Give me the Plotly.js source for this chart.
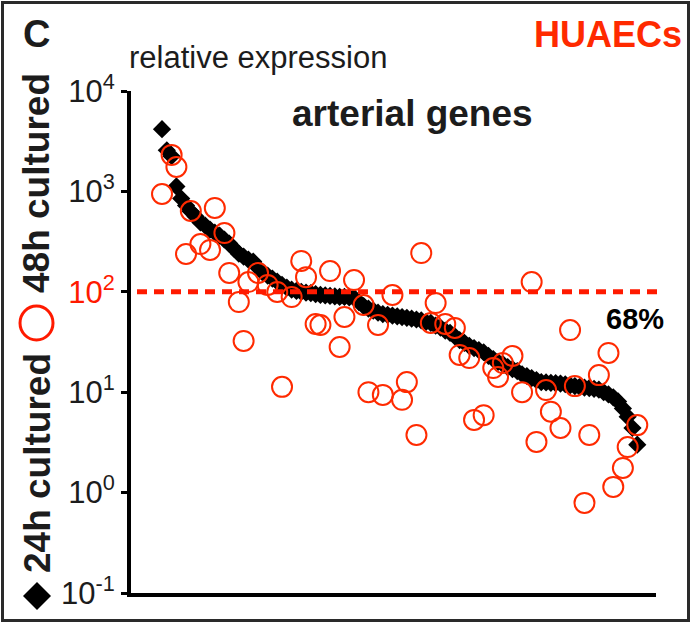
<!DOCTYPE html>
<html>
<head>
<meta charset="utf-8">
<script src="https://cdn.plot.ly/plotly-3.0.1.min.js"></script>
<style>
  html, body { margin: 0; padding: 0; background: #fff; }
  #chart { position: absolute; left: 0; top: 0; width: 691px; height: 623px; }
  #frame { position: absolute; left: 1px; top: 1px; width: 689px; height: 621px;
           box-sizing: border-box; border: 3px solid #2a2a2a; pointer-events: none; }
</style>
</head>
<body>
<div id="chart"></div>
<div id="frame"></div>
<script>
// Relative expression of arterial genes, ranked by 24h-cultured value
const black24h = [
  4170, 2570, 2240, 1120, 850, 724, 631, 562, 490, 457,
  417, 389, 363, 331, 302, 269, 240, 224, 209, 200,
  174, 155, 145, 135, 126, 117, 110, 105, 102, 100,
  98, 97, 95, 93, 92, 91, 90, 89, 89, 88,
  87, 79, 72, 68, 65, 62, 60, 59, 58, 57,
  56, 55, 54, 53, 52, 50, 49, 46, 44, 41,
  39, 36, 33, 31, 29, 27.5, 26.3, 25, 23, 21.4,
  20, 19, 17.8, 17, 16.2, 15.1, 14.5, 13.8, 13.2, 12.6,
  12.5, 12.4, 12.3, 12.2, 12.0, 11.7, 11.5, 11.3, 11.1, 11.0,
  10.8, 10.6, 10.0, 9.5, 8.9, 8.1, 6.9, 5.7, 4.4, 3.0
];
const geneRank = black24h.map((v, i) => i);

// 48h cultured values (gene rank and value)
const red48hRank = [
  0, 2, 3, 5, 6, 8, 10, 11, 13, 14,
  16, 17, 18, 20, 22, 24, 25, 27, 29, 30,
  32, 33, 35, 37, 38, 40, 42, 43, 45, 46,
  48, 50, 51, 53, 54, 56, 57, 59, 61, 62,
  64, 65, 67, 69, 70, 71, 73, 75, 77, 78,
  80, 81, 83, 85, 86, 88, 89, 91, 93, 94,
  96, 97, 99
];
const red48h = [
  942, 2310, 1750, 238, 638, 299, 261, 684, 385, 154,
  79, 32.4, 125, 154, 117, 99.6, 11.3, 88.7, 203, 140,
  47.8, 46.7, 161, 28.2, 56.1, 131, 73.9, 10.0, 46.7, 9.4,
  92.9, 8.4, 12.6, 3.75, 243, 48.9, 77.3, 47.8, 43.6, 23.5,
  21.9, 5.3, 5.9, 17.4, 14.2, 19.5, 23.0, 10.0, 125, 3.2,
  10.5, 6.4, 4.4, 41.6, 11.5, 0.79, 3.75, 14.8, 24.6, 1.14,
  1.76, 2.84, 4.7
];

const tickValues = [0.1, 1, 10, 100, 1000, 10000];
const tickLabels = ['10<sup>-1</sup>', '10<sup>0</sup>', '10<sup>1</sup>',
  '<span style="color:#ff1a00">10<sup>2</sup></span>', '10<sup>3</sup>', '10<sup>4</sup>'];
const threshold = 100;
const percentLabel = '68%';
const label24 = '24h cultured';
const label48 = '48h cultured';

const FONT = 'Arial, "Liberation Sans", Helvetica, sans-serif';
const INK = '#1c1c1c';
const RED = '#ff2a00';

const yMin = -1, yMax = 4;
const W = 691, H = 623;
const mL = 131, mR = 35, mT = 91, mB = 30;
const plotW = W - mL - mR, plotH = H - mT - mB;
const px2paperX = p => (p - mL) / plotW;
const px2paperY = p => (H - mB - p) / plotH;

// legend glyphs inside the rotated axis title
const dCx = 37, dCy = 596, dHw = 14, dHh = 14;
const diamondPath = 'M ' + px2paperX(dCx) + ',' + px2paperY(dCy - dHh) +
  ' L ' + px2paperX(dCx + dHw) + ',' + px2paperY(dCy) +
  ' L ' + px2paperX(dCx) + ',' + px2paperY(dCy + dHh) +
  ' L ' + px2paperX(dCx - dHw) + ',' + px2paperY(dCy) + ' Z';

const traces = [
  {
    x: geneRank, y: black24h, type: 'scatter', mode: 'markers',
    marker: { symbol: 'diamond', size: 14, color: '#000' },
    cliponaxis: false, hoverinfo: 'skip', showlegend: false
  },
  {
    x: red48hRank, y: red48h, type: 'scatter', mode: 'markers',
    marker: { symbol: 'circle-open', size: 20, color: RED, line: { width: 2, color: RED } },
    cliponaxis: false, hoverinfo: 'skip', showlegend: false
  }
];

const layout = {
  width: W, height: H,
  margin: { l: mL, r: mR, t: mT, b: mB, pad: 0 },
  paper_bgcolor: '#fff', plot_bgcolor: '#fff',
  font: { family: FONT, color: INK },
  showlegend: false,
  xaxis: {
    range: [-6.46, 102.9], showline: true, linewidth: 4, linecolor: '#000',
    showticklabels: false, ticks: '', showgrid: false, zeroline: false
  },
  yaxis: {
    type: 'log', range: [yMin, yMax], showline: true, linewidth: 4, linecolor: '#000',
    tickvals: tickValues, ticktext: tickLabels, ticks: 'outside', ticklen: 6, tickwidth: 3,
    tickcolor: '#000', tickfont: { size: 31, family: FONT, color: INK },
    showgrid: false, zeroline: false
  },
  shapes: [
    {
      type: 'line', xref: 'paper', yref: 'paper',
      x0: px2paperX(137), x1: px2paperX(663),
      y0: (Math.log10(threshold) - yMin) / (yMax - yMin),
      y1: (Math.log10(threshold) - yMin) / (yMax - yMin),
      line: { color: '#ff1a00', width: 5, dash: '10px,7px' }
    },
    {
      type: 'path', xref: 'paper', yref: 'paper', path: diamondPath,
      fillcolor: '#000', line: { width: 0 }
    },
    {
      type: 'circle', xref: 'paper', yref: 'paper',
      x0: px2paperX(20), x1: px2paperX(53), y0: px2paperY(340), y1: px2paperY(306),
      line: { color: '#ff1a00', width: 3 }
    }
  ],
  annotations: [
    { text: '<b>C</b>', xref: 'paper', yref: 'paper', x: px2paperX(36), y: px2paperY(34),
      xanchor: 'center', yanchor: 'middle', showarrow: false, font: { size: 38, color: INK } },
    { text: 'relative expression', xref: 'paper', yref: 'paper', x: px2paperX(127), y: px2paperY(57),
      xanchor: 'left', yanchor: 'middle', showarrow: false, font: { size: 31, color: INK } },
    { text: '<b>HUAECs</b>', xref: 'paper', yref: 'paper', x: px2paperX(608), y: px2paperY(34),
      xanchor: 'center', yanchor: 'middle', showarrow: false, font: { size: 36, color: RED } },
    { text: '<b>arterial genes</b>', xref: 'paper', yref: 'paper', x: px2paperX(412), y: px2paperY(114),
      xanchor: 'center', yanchor: 'middle', showarrow: false, font: { size: 37, color: INK } },
    { text: '<b>' + percentLabel + '</b>', xref: 'paper', yref: 'paper', x: px2paperX(635), y: px2paperY(319),
      xanchor: 'center', yanchor: 'middle', showarrow: false, font: { size: 29, color: '#000' } },
    { text: '<b>' + label24 + '</b>', xref: 'paper', yref: 'paper', x: px2paperX(37), y: px2paperY(463),
      xanchor: 'center', yanchor: 'middle', textangle: -90, showarrow: false,
      font: { size: 37, color: INK } },
    { text: '<b>' + label48 + '</b>', xref: 'paper', yref: 'paper', x: px2paperX(37), y: px2paperY(183),
      xanchor: 'center', yanchor: 'middle', textangle: -90, showarrow: false,
      font: { size: 37, color: INK } }
  ]
};

Plotly.newPlot('chart', traces, layout, { displayModeBar: false, staticPlot: true });
</script>
</body>
</html>
